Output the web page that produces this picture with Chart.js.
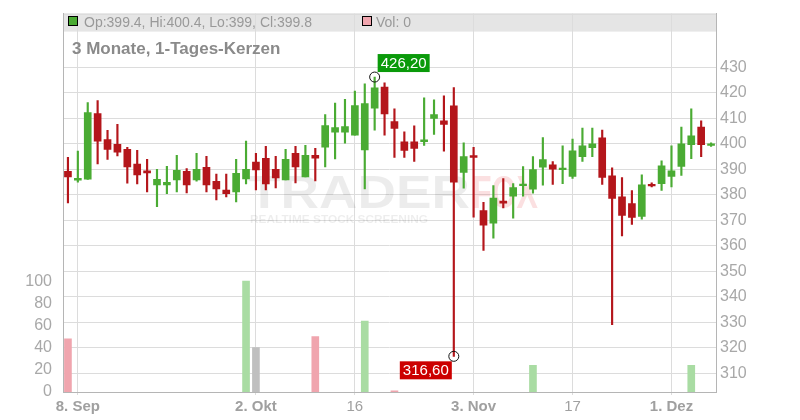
<!DOCTYPE html>
<html>
<head>
<meta charset="utf-8">
<script src="https://cdn.jsdelivr.net/npm/chart.js@4.4.1/dist/chart.umd.min.js"></script>
<style>
  html, body { margin: 0; padding: 0; background: #fff; }
  #wrap { width: 800px; height: 420px; }
</style>
</head>
<body>
<div id="wrap"><canvas id="chart" width="800" height="420"></canvas></div>
<script>
// trading days, 5 Sep - 5 Dec 2025
const days = [
  "2025-09-05", "2025-09-08", "2025-09-09", "2025-09-10", "2025-09-11", "2025-09-12",
  "2025-09-15", "2025-09-16", "2025-09-17", "2025-09-18", "2025-09-19",
  "2025-09-22", "2025-09-23", "2025-09-24", "2025-09-25", "2025-09-26",
  "2025-09-29", "2025-09-30", "2025-10-01", "2025-10-02", "2025-10-03",
  "2025-10-06", "2025-10-07", "2025-10-08", "2025-10-09", "2025-10-10",
  "2025-10-13", "2025-10-14", "2025-10-15", "2025-10-16", "2025-10-17",
  "2025-10-20", "2025-10-21", "2025-10-22", "2025-10-23", "2025-10-24",
  "2025-10-27", "2025-10-28", "2025-10-29", "2025-10-30", "2025-10-31",
  "2025-11-03", "2025-11-04", "2025-11-05", "2025-11-06", "2025-11-07",
  "2025-11-10", "2025-11-11", "2025-11-12", "2025-11-13", "2025-11-14",
  "2025-11-17", "2025-11-18", "2025-11-19", "2025-11-20", "2025-11-21",
  "2025-11-24", "2025-11-25", "2025-11-26", "2025-11-27", "2025-11-28",
  "2025-12-01", "2025-12-02", "2025-12-03", "2025-12-04", "2025-12-05"
];

const opens = [
  389.2, 385.7, 386.1, 411.9, 401.7, 399.8, 397.8, 392.0, 389.4, 383.9,
  383.9, 385.8, 389.2, 385.8, 390.8, 385.3, 381.8, 381.1, 386.2, 392.8,
  394.3, 390.0, 385.8, 396.3, 387.0, 395.5, 398.7, 404.6, 404.6, 403.4,
  397.6, 414.0, 422.3, 408.7, 400.8, 400.8, 400.8, 410.0, 409.0, 414.9,
  388.8, 395.4, 373.8, 368.9, 377.5, 379.5, 383.6, 382.2, 390.8, 391.8,
  389.9, 387.2, 395.0, 398.5, 402.3, 387.4, 379.2, 376.5, 371.5, 383.9,
  384.4, 387.2, 391.1, 399.7, 406.6, 399.4
];
const highs = [
  394.7, 397.1, 416.2, 417.0, 405.3, 407.6, 398.6, 397.4, 393.9, 390.0,
  391.2, 395.5, 390.3, 396.3, 395.1, 388.1, 388.1, 393.9, 401.1, 396.3,
  399.0, 395.1, 397.8, 399.0, 399.4, 398.2, 411.5, 416.0, 417.5, 420.7,
  423.5, 426.2, 423.9, 413.7, 404.7, 407.1, 418.0, 417.3, 418.8, 422.1,
  400.4, 398.6, 377.0, 383.6, 386.4, 384.4, 391.1, 395.0, 402.4, 393.0,
  399.2, 401.9, 406.2, 406.2, 405.4, 390.6, 386.7, 381.6, 387.8, 384.7,
  393.3, 399.2, 406.6, 413.7, 409.0, 400.4
];
const lows = [
  376.8, 384.9, 386.0, 392.1, 393.9, 395.2, 384.6, 384.3, 381.1, 375.3,
  380.4, 381.1, 380.7, 385.3, 381.1, 378.0, 379.2, 377.2, 384.3, 381.9,
  381.9, 382.7, 385.8, 384.7, 387.0, 385.4, 390.9, 394.1, 400.3, 403.4,
  382.3, 405.4, 403.4, 394.7, 394.7, 393.1, 399.4, 403.7, 397.1, 316.6,
  382.6, 371.2, 358.2, 363.0, 374.8, 370.8, 379.5, 380.6, 383.8, 384.1,
  384.4, 386.4, 393.1, 395.0, 384.1, 329.0, 363.9, 368.4, 370.4, 383.1,
  381.7, 383.1, 387.6, 394.2, 395.0, 399.0
];
const closes = [
  387.0, 386.5, 412.3, 401.0, 397.8, 396.7, 390.9, 387.8, 388.6, 386.1,
  384.9, 389.6, 383.9, 390.0, 383.9, 382.3, 380.4, 388.4, 390.0, 389.8,
  384.3, 386.6, 393.9, 390.9, 395.5, 394.4, 407.2, 406.4, 406.8, 415.0,
  415.8, 422.0, 411.7, 406.0, 397.4, 398.2, 401.6, 411.5, 407.6, 384.9,
  395.0, 394.7, 368.1, 378.7, 376.7, 382.8, 384.0, 389.9, 393.8, 390.0,
  390.2, 397.2, 399.2, 400.0, 386.8, 378.6, 371.9, 371.1, 383.9, 383.5,
  391.4, 389.4, 400.0, 403.1, 399.7, 399.8
];
const volumes = [
  48, 0, 0, 0, 0, 0, 0, 0, 0, 0,
  0, 0, 0, 0, 0, 0, 0, 0, 100, 40,
  0, 0, 0, 0, 0, 50, 0, 0, 0, 0,
  64, 0, 0, 1, 0, 0, 0, 0, 0, 0,
  0, 0, 0, 0, 0, 0, 0, 24, 0, 0,
  0, 0, 0, 0, 0, 0, 0, 0, 0, 0,
  0, 0, 0, 24, 0, 0
];
// days whose volume bar is shown as unchanged (grey)
const flatVolumeDays = ["2025-10-02"];

const tickDays = ["2025-09-08", "2025-10-02", "2025-10-16", "2025-11-03", "2025-11-17", "2025-12-01"];
const tickLabels = ["8. Sep", "2. Okt", "16", "3. Nov", "17", "1. Dez"];
const monthTicks = ["8. Sep", "2. Okt", "3. Nov", "1. Dez"];
const priceTicks = [310, 320, 330, 340, 350, 360, 370, 380, 390, 400, 410, 420, 430];
const volumeTicks = [0, 20, 40, 60, 80, 100];

const title = "3 Monate, 1-Tages-Kerzen";
const hiLabel = "426,20";
const loLabel = "316,60";

const GREEN = "#4aab33", RED = "#b4161b";
const FONT = "'Liberation Sans', Arial, sans-serif";

const up = opens.map((o, i) => closes[i] >= o);
const candleColors = up.map(u => u ? GREEN : RED);
const volColors = volumes.map((v, i) =>
  flatVolumeDays.includes(days[i]) ? "#bfbfbf" : (up[i] ? "#a9dca3" : "#f0a5ae"));

const hiIdx = highs.indexOf(Math.max(...highs));
const loIdx = lows.indexOf(Math.min(...lows));
const last = days.length - 1;

const decor = {
  id: "decor",
  beforeDraw(chart) {
    const { ctx, chartArea: a } = chart;
    ctx.save();
    ctx.fillStyle = "#e5e5e5";
    ctx.fillRect(a.left, a.top, a.right - a.left, 18);
    ctx.strokeStyle = "#d6d6d6";
    ctx.lineWidth = 1;
    ctx.beginPath();
    ctx.moveTo(a.left, a.top + 0.5);
    ctx.lineTo(a.right, a.top + 0.5);
    ctx.stroke();
    ctx.restore();
  },
  beforeDatasetsDraw(chart) {
    // faint watermark
    const { ctx } = chart;
    ctx.save();
    ctx.font = "bold 46px " + FONT;
    ctx.textBaseline = "alphabetic";
    let w = ctx.measureText("TRADER").width;
    ctx.translate(248, 208);
    ctx.scale(222 / w, 1);
    ctx.fillStyle = "rgba(0,0,0,0.075)";
    ctx.fillText("TRADER", 0, 0);
    ctx.restore();
    ctx.save();
    ctx.font = "bold 46px " + FONT;
    w = ctx.measureText("FOX").width;
    ctx.translate(472, 208);
    ctx.scale(66 / w, 1);
    ctx.fillStyle = "rgba(230,60,70,0.16)";
    ctx.fillText("FOX", 0, 0);
    ctx.restore();
    ctx.save();
    ctx.font = "bold 10px " + FONT;
    w = ctx.measureText("REALTIME STOCK SCREENING").width;
    ctx.translate(250, 223);
    ctx.scale(178 / w, 1);
    ctx.fillStyle = "rgba(0,0,0,0.07)";
    ctx.fillText("REALTIME STOCK SCREENING", 0, 0);
    ctx.restore();
  },
  afterDatasetsDraw(chart) {
    const { ctx, scales } = chart;
    ctx.save();
    ctx.font = "15px " + FONT;
    ctx.textAlign = "center";
    ctx.textBaseline = "middle";
    // high marker
    let cx = scales.x.getPixelForValue(hiIdx), cy = scales.y.getPixelForValue(highs[hiIdx]);
    ctx.fillStyle = "#0a9a0a";
    ctx.fillRect(cx + 3, cy - 23, 52, 18);
    ctx.fillStyle = "#fff";
    ctx.fillText(hiLabel, cx + 29, cy - 13.5);
    ctx.strokeStyle = "#111";
    ctx.lineWidth = 1;
    ctx.beginPath();
    ctx.arc(cx, cy, 5, 0, Math.PI * 2);
    ctx.stroke();
    // low marker
    cx = scales.x.getPixelForValue(loIdx);
    cy = scales.y.getPixelForValue(lows[loIdx]);
    ctx.fillStyle = "#cc0000";
    ctx.fillRect(cx - 54, cy + 5, 52, 18);
    ctx.fillStyle = "#fff";
    ctx.fillText(loLabel, cx - 28, cy + 14.5);
    ctx.beginPath();
    ctx.arc(cx, cy, 5, 0, Math.PI * 2);
    ctx.stroke();
    ctx.restore();
  },
  afterDraw(chart) {
    const { ctx } = chart;
    ctx.save();
    ctx.lineWidth = 1;
    ctx.strokeStyle = "#000";
    ctx.fillStyle = up[last] ? GREEN : RED;
    ctx.fillRect(68.5, 16.5, 9, 9);
    ctx.strokeRect(68.5, 16.5, 9, 9);
    ctx.fillStyle = "#f0a5ae";
    ctx.fillRect(362.5, 16.5, 9, 9);
    ctx.strokeRect(362.5, 16.5, 9, 9);
    ctx.font = "14px " + FONT;
    ctx.fillStyle = "#999";
    ctx.textBaseline = "alphabetic";
    ctx.fillText("Op:" + opens[last] + ", Hi:" + highs[last] + ", Lo:" + lows[last] + ", Cl:" + closes[last], 84, 26.5);
    ctx.fillText("Vol: " + volumes[last], 376, 26.5);
    ctx.font = "bold 17px " + FONT;
    ctx.fillStyle = "#8a8a8a";
    ctx.fillText(title, 72, 54);
    ctx.restore();
  }
};

new Chart(document.getElementById("chart").getContext("2d"), {
  type: "bar",
  data: {
    labels: days,
    datasets: [
      {
        label: "Docht",
        data: days.map((d, i) => [lows[i], highs[i]]),
        backgroundColor: candleColors,
        barThickness: 1.5,
        yAxisID: "y",
        order: 2
      },
      {
        label: "Kerze",
        data: days.map((d, i) => [opens[i], closes[i]]),
        backgroundColor: candleColors,
        barThickness: 7,
        minBarLength: 1.5,
        yAxisID: "y",
        order: 1
      },
      {
        label: "Vol",
        // empty days draw no bar at all
        data: volumes.map(v => v > 0 ? v : null),
        backgroundColor: volColors,
        barThickness: 7,
        yAxisID: "v",
        order: 3
      }
    ]
  },
  options: {
    responsive: false,
    animation: false,
    devicePixelRatio: 1,
    layout: { padding: { top: 12, left: 0, right: 0, bottom: 0 } },
    datasets: { bar: { grouped: false, borderWidth: 0 } },
    plugins: { legend: { display: false }, tooltip: { enabled: false } },
    scales: {
      x: {
        type: "category",
        offset: true,
        afterBuildTicks(s) {
          s.ticks = s.ticks.filter(t => tickDays.includes(days[t.value]));
        },
        afterFit(s) { s.height = 28; },
        grid: { offset: false, color: "#dcdcdc", tickLength: 3 },
        border: { color: "#b5b5b5" },
        ticks: {
          autoSkip: false,
          maxRotation: 0,
          padding: 3,
          color: "#a0a0a0",
          font: c => ({
            family: FONT,
            size: 15,
            weight: c.tick && monthTicks.includes(tickLabels[tickDays.indexOf(days[c.tick.value])]) ? "bold" : "normal"
          }),
          callback: v => tickLabels[tickDays.indexOf(days[v])]
        }
      },
      y: {
        type: "linear",
        position: "right",
        min: 302.6,
        max: 451.1,
        afterBuildTicks(s) { s.ticks = priceTicks.map(v => ({ value: v })); },
        afterFit(s) { s.width = 84; },
        grid: { color: "#dcdcdc", drawTicks: false },
        border: { color: "#b5b5b5" },
        ticks: { padding: 4, color: "#a8a8a8", font: { family: FONT, size: 16 } }
      },
      v: {
        type: "linear",
        position: "left",
        min: 0,
        max: 341.4,
        afterBuildTicks(s) { s.ticks = volumeTicks.map(v => ({ value: v })); },
        afterFit(s) { s.width = 63; },
        grid: { display: false },
        border: { display: true, color: "#b5b5b5" },
        ticks: { padding: 3, color: "#a8a8a8", font: { family: FONT, size: 16 } }
      }
    }
  },
  plugins: [decor]
});
</script>
</body>
</html>
